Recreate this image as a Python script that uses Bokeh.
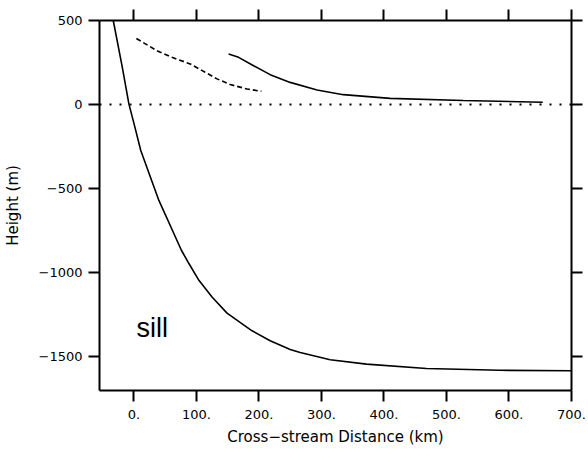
from bokeh.plotting import figure
from bokeh.models import LinearAxis, FixedTicker, Range1d
from bokeh.embed import file_html
from bokeh.resources import INLINE

# ---- data ----
sill_x = [-33, -18.5, -8, 1, 11, 40, 76, 88, 104, 125, 149, 189, 218, 250, 266, 314, 372, 468, 585, 700]
sill_y = [500, 221, 4, -125, -273, -570, -866, -945, -1045, -1144, -1240, -1345, -1404, -1456, -1474, -1517, -1543, -1569, -1580, -1583]

dash_x = [4, 37, 61, 90, 114, 133, 154, 181, 204]
dash_y = [393, 320, 281, 242, 192, 153, 119, 93, 79]

upper_x = [151.5, 167.5, 191.5, 218, 250, 293, 335, 410, 527, 654]
upper_y = [301, 281, 231, 178, 132, 87, 59, 37, 24, 14]

zero_x = [-55, 700]
zero_y = [0, 0]

x_ticks = [0, 100, 200, 300, 400, 500, 600, 700]
x_tick_labels = ["0.", "100.", "200.", "300.", "400.", "500.", "600.", "700."]
y_ticks = [-1500, -1000, -500, 0, 500]
y_tick_labels = ["\u22121500", "\u22121000", "\u2212500", "0", "500"]

FONT = "DejaVu Sans"

p = figure(width=588, height=449, output_backend="svg", toolbar_location=None,
           x_range=Range1d(-55, 700), y_range=Range1d(-1700, 500),
           x_axis_location=None, y_axis_location=None,
           min_border_left=99, min_border_right=17, min_border_top=20, min_border_bottom=59)
p.grid.visible = False
p.outline_line_color = None
p.background_fill_color = "white"
p.border_fill_color = "white"

def style(ax, ticks, labels=None, show_labels=True):
    ax.ticker = FixedTicker(ticks=ticks)
    ax.axis_line_width = 2
    ax.axis_line_color = "black"
    ax.major_tick_line_width = 2
    ax.major_tick_line_color = "black"
    ax.major_tick_out = 11
    ax.major_tick_in = 0
    ax.minor_tick_line_color = None
    if show_labels:
        ax.major_label_overrides = {t: l for t, l in zip(ticks, labels)}
        ax.major_label_text_font = FONT
        ax.major_label_text_font_size = "13px"
        ax.major_label_text_color = "black"
    else:
        ax.major_label_text_font_size = "0px"
        ax.major_label_text_color = None
        ax.major_label_standoff = 0

bottom = LinearAxis(axis_label="Cross\u2212stream Distance (km)")
style(bottom, x_ticks, x_tick_labels)
bottom.major_label_standoff = 8
bottom.axis_label_text_font = FONT
bottom.axis_label_text_font_size = "15px"
bottom.axis_label_text_font_style = "normal"
bottom.axis_label_text_color = "black"
bottom.axis_label_standoff = 6
p.add_layout(bottom, "below")

left = LinearAxis(axis_label="Height (m)")
style(left, y_ticks, y_tick_labels)
left.major_label_standoff = 6
left.axis_label_text_font = FONT
left.axis_label_text_font_size = "15px"
left.axis_label_text_font_style = "normal"
left.axis_label_text_color = "black"
left.axis_label_standoff = 14
p.add_layout(left, "left")

top = LinearAxis()
style(top, x_ticks, show_labels=False)
p.add_layout(top, "above")

right = LinearAxis()
style(right, y_ticks, show_labels=False)
p.add_layout(right, "right")

p.line(sill_x, sill_y, line_color="black", line_width=1.6)
p.line(upper_x, upper_y, line_color="black", line_width=1.6)
p.line(dash_x, dash_y, line_color="black", line_width=1.6, line_dash="5 3")
p.line(zero_x, zero_y, line_color="black", line_width=2, line_dash="2 8")

p.text(x=[4], y=[-1330], text=["sill"], text_font_size="27px",
       text_font={"value": "Liberation Sans"}, text_color="black",
       text_align="left", text_baseline="alphabetic")

open("out.html", "w").write(file_html(p, INLINE))
